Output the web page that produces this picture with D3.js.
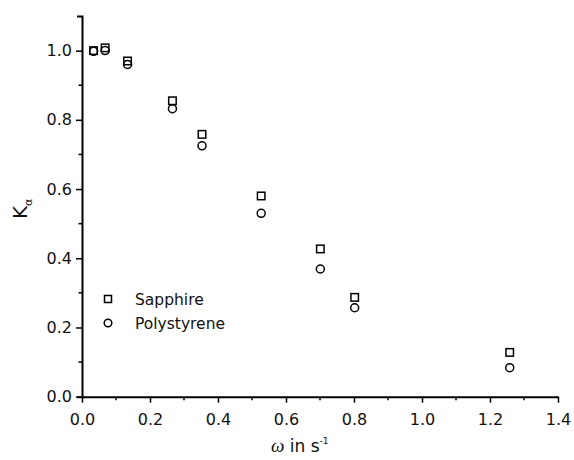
<!DOCTYPE html>
<html>
<head>
<meta charset="utf-8">
<script src="https://cdn.jsdelivr.net/npm/d3@7"></script>
<style>
  html, body { margin: 0; padding: 0; background: #fff; }
  svg { display: block; }
  text { font-family: "URW Gothic", "Century Gothic", "DejaVu Sans", sans-serif; fill: #111; }
</style>
</head>
<body>
<svg id="chart" width="574" height="460"></svg>
<script>
const omega = [0.034, 0.068, 0.134, 0.266, 0.353, 0.527, 0.701, 0.802, 1.258];
const sapphire = [1.0, 1.008, 0.970, 0.855, 0.758, 0.580, 0.427, 0.287, 0.128];
const polystyrene = [0.998, 1.000, 0.960, 0.832, 0.725, 0.530, 0.369, 0.257, 0.084];
const xTicks = [0.0, 0.2, 0.4, 0.6, 0.8, 1.0, 1.2, 1.4];
const yTicks = [0.0, 0.2, 0.4, 0.6, 0.8, 1.0];
const xMinor = [0.1, 0.3, 0.5, 0.7, 0.9, 1.1, 1.3];
const yMinor = [0.1, 0.3, 0.5, 0.7, 0.9];
const legendItems = ["Sapphire", "Polystyrene"];

const svg = d3.select("#chart");
const x = d3.scaleLinear().domain([0, 1.4]).range([82, 558]);
const y = d3.scaleLinear().domain([0, 1.1]).range([396.7, 16]);

// axes
const xAxis = d3.axisBottom(x).tickValues(xTicks).tickFormat(d3.format(".1f")).tickSize(6).tickSizeOuter(0).tickPadding(4);
const gx = svg.append("g").attr("transform", `translate(0,${y(0)})`).call(xAxis);
gx.selectAll("text").style("font-size", "16px").attr("dy", 0).attr("y", 28);
gx.select(".domain").attr("stroke-width", 2);
gx.selectAll(".tick line").attr("stroke-width", 1.5);
gx.selectAll(".minor").data(xMinor).join("line").attr("class", "minor")
  .attr("x1", d => x(d)).attr("x2", d => x(d)).attr("y1", 0).attr("y2", 3.5)
  .attr("stroke", "#000").attr("stroke-width", 1.5);

const yAxis = d3.axisLeft(y).tickValues(yTicks).tickFormat(d3.format(".1f")).tickSize(6).tickSizeOuter(5).tickPadding(4);
const gy = svg.append("g").attr("transform", `translate(${x(0)},0)`).call(yAxis);
gy.selectAll("text").style("font-size", "16px");
gy.select(".domain").attr("stroke-width", 2);
gy.selectAll(".tick line").attr("stroke-width", 1.5);
gy.selectAll(".minor").data(yMinor).join("line").attr("class", "minor")
  .attr("y1", d => y(d)).attr("y2", d => y(d)).attr("x1", 0).attr("x2", -3.5)
  .attr("stroke", "#000").attr("stroke-width", 1.5);

// axis titles
const xt = svg.append("text").attr("x", 271).attr("y", 452).style("font-size", "17px");
xt.append("tspan").text("ω").style("font-family", "'Liberation Serif', serif").style("font-style", "italic").style("font-size", "19px");
xt.append("tspan").text(" in s");
xt.append("tspan").text("-1").attr("dy", -8).style("font-size", "9px");

const yt = svg.append("text").attr("transform", "translate(27,219) rotate(-90)").style("font-size", "20px");
yt.append("tspan").text("K");
yt.append("tspan").text("α").attr("dy", 5).style("font-size", "11px");

// markers
const S = 7.5;
svg.append("g").selectAll("rect").data(omega.map((w, i) => [w, sapphire[i]])).join("rect")
  .attr("x", d => x(d[0]) - S / 2).attr("y", d => y(d[1]) - S / 2)
  .attr("width", S).attr("height", S)
  .attr("fill", "none").attr("stroke", "#000").attr("stroke-width", 1.5);
svg.append("g").selectAll("circle").data(omega.map((w, i) => [w, polystyrene[i]])).join("circle")
  .attr("cx", d => x(d[0])).attr("cy", d => y(d[1])).attr("r", 4)
  .attr("fill", "none").attr("stroke", "#000").attr("stroke-width", 1.5);

// legend
const lg = svg.append("g");
lg.append("rect").attr("x", 108 - 3.5).attr("y", 299 - 3.5).attr("width", 7).attr("height", 7)
  .attr("fill", "none").attr("stroke", "#000").attr("stroke-width", 1.5);
lg.append("circle").attr("cx", 108).attr("cy", 323).attr("r", 3.8)
  .attr("fill", "none").attr("stroke", "#000").attr("stroke-width", 1.5);
lg.selectAll("text").data(legendItems).join("text")
  .attr("x", 135).attr("y", (d, i) => 305 + i * 24)
  .style("font-size", "15.5px").text(d => d);
</script>
</body>
</html>
